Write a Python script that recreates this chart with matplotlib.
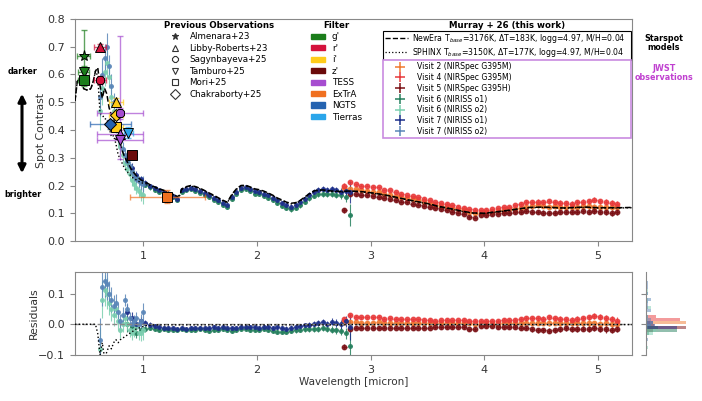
import numpy as np
import matplotlib
matplotlib.use('Agg')
import matplotlib.pyplot as plt
from matplotlib.lines import Line2D
from matplotlib.patches import Patch, FancyArrowPatch

# ---------------- data ----------------
# starspot models (NewEra dashed, SPHINX dotted)
model_wl = [0.40, 0.42, 0.44, 0.46, 0.48, 0.50, 0.52, 0.54, 0.56, 0.58, 0.60, 0.62, 0.64, 0.66,
            0.68, 0.70, 0.72, 0.74, 0.76, 0.78, 0.80, 0.82, 0.84, 0.86, 0.90, 0.94, 0.98, 1.02,
            1.06, 1.10, 1.14, 1.18, 1.22, 1.26, 1.30, 1.32, 1.34, 1.38, 1.42, 1.46, 1.50, 1.54,
            1.58, 1.62, 1.66, 1.70, 1.74, 1.78, 1.82, 1.86, 1.90, 1.94, 1.98, 2.02, 2.06, 2.10,
            2.14, 2.18, 2.22, 2.26, 2.30, 2.34, 2.38, 2.42, 2.46, 2.50, 2.54, 2.58, 2.62, 2.66,
            2.70, 2.74, 2.80, 2.90, 3.00, 3.10, 3.20, 3.30, 3.40, 3.50, 3.60, 3.70, 3.80, 3.90,
            4.00, 4.10, 4.20, 4.30, 4.40, 4.50, 4.60, 4.70, 4.80, 4.90, 5.00, 5.10, 5.20, 5.30]
newera = [0.505, 0.575, 0.585, 0.560, 0.548, 0.545, 0.543, 0.550, 0.575, 0.612, 0.625, 0.560, 0.515, 0.550,
          0.530, 0.480, 0.455, 0.440, 0.400, 0.370, 0.345, 0.320, 0.300, 0.285, 0.255, 0.235, 0.220, 0.212,
          0.203, 0.195, 0.188, 0.183, 0.176, 0.170, 0.160, 0.165, 0.188, 0.196, 0.200, 0.196, 0.190, 0.182,
          0.173, 0.165, 0.156, 0.147, 0.140, 0.168, 0.188, 0.200, 0.201, 0.195, 0.188, 0.185, 0.180, 0.173,
          0.165, 0.155, 0.148, 0.140, 0.136, 0.138, 0.146, 0.158, 0.170, 0.180, 0.184, 0.184, 0.182, 0.180,
          0.180, 0.178, 0.180, 0.179, 0.174, 0.168, 0.160, 0.151, 0.143, 0.135, 0.125, 0.117, 0.108, 0.101,
          0.100, 0.105, 0.110, 0.116, 0.121, 0.122, 0.121, 0.119, 0.121, 0.122, 0.120, 0.120, 0.120, 0.121]
sphinx = [0.505, 0.575, 0.585, 0.560, 0.548, 0.545, 0.543, 0.550, 0.575, 0.612, 0.595, 0.460, 0.455, 0.440,
          0.440, 0.410, 0.375, 0.380, 0.350, 0.310, 0.295, 0.275, 0.260, 0.250, 0.230, 0.220, 0.210, 0.207,
          0.200, 0.193, 0.186, 0.181, 0.174, 0.168, 0.158, 0.163, 0.186, 0.194, 0.198, 0.194, 0.188, 0.180,
          0.171, 0.163, 0.154, 0.145, 0.138, 0.166, 0.186, 0.198, 0.199, 0.193, 0.186, 0.183, 0.178, 0.171,
          0.163, 0.153, 0.146, 0.138, 0.134, 0.136, 0.144, 0.156, 0.168, 0.178, 0.182, 0.182, 0.180, 0.178,
          0.178, 0.176, 0.179, 0.178, 0.173, 0.167, 0.159, 0.150, 0.142, 0.134, 0.124, 0.116, 0.107, 0.100,
          0.099, 0.104, 0.109, 0.115, 0.120, 0.121, 0.120, 0.118, 0.120, 0.121, 0.119, 0.119, 0.119, 0.120]

# NIRISS order 2
o2_wl = [0.62, 0.64, 0.66, 0.68, 0.70, 0.72, 0.74, 0.76, 0.78, 0.80,
         0.82, 0.84, 0.86, 0.88, 0.90, 0.92, 0.94, 0.96, 0.98, 1.00]
v7o2 = [0.52, 0.60, 0.66, 0.70, 0.63, 0.56, 0.50, 0.45, 0.40, 0.36,
        0.33, 0.31, 0.29, 0.27, 0.25, 0.235, 0.225, 0.215, 0.21, 0.205]
v6o2 = [0.47, 0.55, 0.61, 0.64, 0.59, 0.52, 0.47, 0.42, 0.37, 0.34,
        0.31, 0.28, 0.26, 0.24, 0.22, 0.205, 0.19, 0.18, 0.17, 0.165]
e_o2 = [0.07, 0.06, 0.05, 0.05, 0.04, 0.04, 0.035, 0.03, 0.03, 0.025,
        0.025, 0.02, 0.02, 0.02, 0.02, 0.02, 0.02, 0.02, 0.025, 0.03]
r7o2 = [-0.05, 0.12, 0.14, 0.13, 0.10, 0.08, 0.06, 0.07, 0.04, 0.01,
        0.03, 0.08, 0.05, 0.02, 0.00, 0.01, 0.02, 0.00, 0.01, 0.04]
r6o2 = [-0.08, 0.08, 0.11, 0.10, 0.07, 0.05, 0.03, 0.05, 0.01, -0.02,
        0.00, 0.02, 0.00, -0.02, -0.03, -0.02, -0.01, -0.03, -0.03, -0.02]

# NIRISS order 1
o1_wl = [0.86, 0.90, 0.94, 0.98, 1.02, 1.06, 1.10, 1.14, 1.18, 1.22, 1.26, 1.30, 1.34,
         1.38, 1.42, 1.46, 1.50, 1.54, 1.58, 1.62, 1.66, 1.70, 1.74, 1.78, 1.82, 1.86,
         1.90, 1.94, 1.98, 2.02, 2.06, 2.10, 2.14, 2.18, 2.22, 2.26, 2.30, 2.34, 2.38,
         2.42, 2.46, 2.50, 2.54, 2.58, 2.62, 2.66, 2.70, 2.74, 2.78, 2.82]
v7o1 = [0.300, 0.262, 0.238, 0.222, 0.210, 0.199, 0.190, 0.182, 0.176, 0.170, 0.163, 0.151, 0.182,
        0.188, 0.192, 0.187, 0.181, 0.173, 0.164, 0.156, 0.146, 0.138, 0.131, 0.158, 0.178, 0.192,
        0.193, 0.186, 0.179, 0.176, 0.171, 0.164, 0.155, 0.146, 0.137, 0.129, 0.124, 0.128, 0.139,
        0.153, 0.167, 0.178, 0.185, 0.188, 0.184, 0.186, 0.182, 0.178, 0.180, 0.176]
v6o1 = [0.285, 0.250, 0.228, 0.214, 0.203, 0.193, 0.184, 0.176, 0.170, 0.164, 0.157, 0.146, 0.176,
        0.182, 0.186, 0.180, 0.174, 0.166, 0.157, 0.149, 0.139, 0.130, 0.122, 0.150, 0.170, 0.184,
        0.186, 0.179, 0.171, 0.168, 0.162, 0.155, 0.146, 0.136, 0.127, 0.119, 0.114, 0.118, 0.128,
        0.141, 0.154, 0.163, 0.168, 0.170, 0.168, 0.170, 0.167, 0.165, 0.160, 0.095]
e_o1 = [0.025, 0.020, 0.015, 0.012, 0.010, 0.008, 0.007, 0.007, 0.006, 0.006, 0.006, 0.006, 0.006,
        0.006, 0.006, 0.006, 0.006, 0.006, 0.006, 0.006, 0.006, 0.006, 0.006, 0.006, 0.006, 0.006,
        0.006, 0.006, 0.006, 0.006, 0.006, 0.007, 0.007, 0.007, 0.007, 0.007, 0.008, 0.008, 0.008,
        0.008, 0.009, 0.009, 0.009, 0.010, 0.010, 0.011, 0.012, 0.014, 0.018, 0.040]
r7o1 = [0.040, 0.020, 0.002, 0.010, 0.004, -0.002, -0.006, -0.010, -0.012, -0.013, -0.012, -0.014, -0.012,
        -0.014, -0.012, -0.013, -0.011, -0.012, -0.013, -0.010, -0.012, -0.009, -0.011, -0.013, -0.012, -0.010,
        -0.008, -0.010, -0.009, -0.011, -0.008, -0.010, -0.012, -0.009, -0.013, -0.014, -0.012, -0.008, -0.006,
        -0.004, -0.002, 0.000, 0.004, 0.006, 0.002, 0.008, 0.004, 0.000, 0.010, -0.010]
r6o1 = [0.000, -0.010, -0.030, -0.020, -0.015, -0.012, -0.014, -0.018, -0.016, -0.020, -0.018, -0.019, -0.017,
        -0.020, -0.018, -0.020, -0.017, -0.019, -0.021, -0.018, -0.020, -0.016, -0.019, -0.021, -0.018, -0.017,
        -0.015, -0.019, -0.020, -0.018, -0.016, -0.019, -0.022, -0.024, -0.026, -0.025, -0.022, -0.020, -0.018,
        -0.016, -0.015, -0.017, -0.016, -0.012, -0.014, -0.018, -0.020, -0.022, -0.030, -0.070]

# NIRSpec G395M / G395H
ns_wl = [2.77, 2.82, 2.87, 2.92, 2.97, 3.02, 3.07, 3.12, 3.17, 3.22, 3.27, 3.32, 3.37,
         3.42, 3.47, 3.52, 3.57, 3.62, 3.67, 3.72, 3.77, 3.82, 3.87, 3.92, 3.97, 4.02,
         4.07, 4.12, 4.17, 4.22, 4.27, 4.32, 4.37, 4.42, 4.47, 4.52, 4.57, 4.62, 4.67,
         4.72, 4.77, 4.82, 4.87, 4.92, 4.97, 5.02, 5.07, 5.12, 5.17]
v4 = [0.200, 0.212, 0.204, 0.200, 0.199, 0.196, 0.194, 0.184, 0.182, 0.176, 0.170, 0.166, 0.162,
      0.158, 0.152, 0.148, 0.140, 0.137, 0.134, 0.128, 0.124, 0.120, 0.114, 0.112, 0.110, 0.112,
      0.114, 0.118, 0.121, 0.124, 0.128, 0.133, 0.140, 0.141, 0.142, 0.140, 0.144, 0.140, 0.138,
      0.136, 0.135, 0.139, 0.141, 0.144, 0.148, 0.143, 0.140, 0.136, 0.132]
v2 = [0.190, 0.188, 0.186, 0.183, 0.181, 0.178, 0.176, 0.171, 0.167, 0.162, 0.158, 0.155, 0.150,
      0.146, 0.142, 0.137, 0.131, 0.127, 0.122, 0.118, 0.114, 0.110, 0.106, 0.102, 0.100, 0.103,
      0.106, 0.108, 0.111, 0.114, 0.117, 0.120, 0.124, 0.127, 0.128, 0.126, 0.124, 0.125, 0.123,
      0.122, 0.123, 0.124, 0.125, 0.126, 0.124, 0.122, 0.124, 0.121, 0.122]
v5 = [0.110, 0.168, 0.168, 0.166, 0.164, 0.162, 0.158, 0.155, 0.150, 0.147, 0.142, 0.139, 0.135,
      0.131, 0.127, 0.122, 0.118, 0.114, 0.110, 0.106, 0.102, 0.098, 0.086, 0.084, 0.092, 0.094,
      0.097, 0.098, 0.100, 0.102, 0.104, 0.106, 0.108, 0.106, 0.104, 0.102, 0.100, 0.102, 0.104,
      0.106, 0.104, 0.106, 0.108, 0.106, 0.108, 0.106, 0.104, 0.100, 0.106]
e_ns = [0.008, 0.006, 0.005, 0.005, 0.005, 0.005, 0.005, 0.005, 0.005, 0.005, 0.005, 0.005, 0.005,
        0.005, 0.005, 0.005, 0.005, 0.005, 0.005, 0.005, 0.005, 0.006, 0.006, 0.006, 0.006, 0.006,
        0.006, 0.006, 0.006, 0.006, 0.007, 0.007, 0.008, 0.008, 0.008, 0.008, 0.008, 0.008, 0.008,
        0.008, 0.008, 0.009, 0.009, 0.009, 0.009, 0.010, 0.010, 0.010, 0.011]
r4 = [0.017, 0.030, 0.024, 0.022, 0.023, 0.023, 0.024, 0.018, 0.020, 0.018, 0.016, 0.016, 0.016,
      0.016, 0.014, 0.015, 0.012, 0.013, 0.015, 0.013, 0.013, 0.013, 0.011, 0.012, 0.011, 0.011,
      0.010, 0.012, 0.013, 0.013, 0.014, 0.016, 0.020, 0.019, 0.019, 0.018, 0.023, 0.019, 0.018,
      0.017, 0.015, 0.018, 0.019, 0.022, 0.027, 0.023, 0.019, 0.016, 0.012]
r2 = [0.007, 0.006, 0.006, 0.005, 0.005, 0.005, 0.006, 0.005, 0.005, 0.004, 0.004, 0.005, 0.004,
      0.004, 0.004, 0.004, 0.003, 0.003, 0.003, 0.003, 0.003, 0.003, 0.003, 0.002, 0.001, 0.002,
      0.002, 0.002, 0.003, 0.003, 0.003, 0.003, 0.004, 0.005, 0.005, 0.004, 0.003, 0.004, 0.003,
      0.003, 0.003, 0.003, 0.003, 0.004, 0.003, 0.002, 0.003, 0.001, 0.002]
r5 = [-0.073, -0.014, -0.012, -0.012, -0.012, -0.011, -0.012, -0.011, -0.012, -0.011, -0.012, -0.011, -0.011,
      -0.011, -0.011, -0.011, -0.010, -0.010, -0.009, -0.009, -0.009, -0.009, -0.017, -0.016, -0.007, -0.007,
      -0.007, -0.008, -0.008, -0.009, -0.010, -0.011, -0.012, -0.016, -0.019, -0.020, -0.021, -0.019, -0.016,
      -0.013, -0.016, -0.015, -0.014, -0.016, -0.013, -0.014, -0.017, -0.020, -0.014]

# previous photometric observations
prev_wl = [0.475, 0.475, 0.475, 0.62, 0.62, 0.76, 0.76, 0.76, 0.795, 0.795, 0.795, 0.71, 0.87, 0.90, 1.21]
prev_val = [0.665, 0.61, 0.58, 0.70, 0.58, 0.50, 0.455, 0.41, 0.46, 0.385, 0.365, 0.42, 0.39, 0.31, 0.16]
prev_xerr = [0.055, 0.05, 0.05, 0.05, 0.05, 0.06, 0.06, 0.06, 0.2, 0.2, 0.2, 0.18, 0.04, 0.04, 0.33]
prev_ylo = [0.10, 0.02, 0.02, 0.01, 0.015, 0.015, 0.015, 0.015, 0.02, 0.015, 0.07, 0.015, 0.02, 0.01, 0.022]
prev_yhi = [0.095, 0.02, 0.02, 0.01, 0.015, 0.015, 0.015, 0.015, 0.02, 0.015, 0.375, 0.015, 0.02, 0.01, 0.022]
prev_filter = ["g'", "g'", "g'", "r'", "r'", "i'", "i'", "i'", 'TESS', 'TESS', 'TESS',
               'NGTS', 'Tierras', "z'", 'ExTrA']
prev_ref = ['Almenara+23', 'Tamburo+25', 'Mori+25', 'Libby-Roberts+23', 'Sagynbayeva+25',
            'Libby-Roberts+23', 'Chakraborty+25', 'Mori+25', 'Sagynbayeva+25', 'Libby-Roberts+23',
            'Tamburo+25', 'Chakraborty+25', 'Tamburo+25', 'Mori+25', 'Mori+25']

ref_names = ['Almenara+23', 'Libby-Roberts+23', 'Sagynbayeva+25', 'Tamburo+25', 'Mori+25', 'Chakraborty+25']
ref_markers = ['*', '^', '8', 'v', 's', 'D']
filter_names = ["g'", "r'", "i'", "z'", 'TESS', 'ExTrA', 'NGTS', 'Tierras']
filter_colors = ['#1b7d1b', '#d4123c', '#ffcc1a', '#6b0a0a', '#a64dd0', '#f07020', '#2563b0', '#2aa5ea']

# ---------------- figure ----------------
W, H = 702, 401
fig = plt.figure(figsize=(W / 100, H / 100), dpi=100)


def fx(px):
    return px / W


def fy(py):
    return 1 - py / H


ax = fig.add_axes([fx(75), fy(241), fx(632) - fx(75), fy(19) - fy(241)])
axr = fig.add_axes([fx(75), fy(355), fx(632) - fx(75), fy(272) - fy(355)])
axh = fig.add_axes([fx(646), fy(355), fx(700) - fx(646), fy(272) - fy(355)])

visits = [
    ('Visit 2 (NIRSpec G395M)', ns_wl, v2, e_ns, r2, '#f07a30', 3.2, 0.02),
    ('Visit 4 (NIRSpec G395M)', ns_wl, v4, e_ns, r4, '#e8393a', 3.2, 0.02),
    ('Visit 5 (NIRSpec G395H)', ns_wl, v5, e_ns, r5, '#7a0f14', 3.2, 0.02),
    ('Visit 6 (NIRISS o1)', o1_wl, v6o1, e_o1, r6o1, '#26805e', 2.6, 0.015),
    ('Visit 6 (NIRISS o2)', o2_wl, v6o2, e_o2, r6o2, '#7ccfb0', 2.6, 0.01),
    ('Visit 7 (NIRISS o1)', o1_wl, v7o1, e_o1, r7o1, '#1c2f8a', 2.6, 0.015),
    ('Visit 7 (NIRISS o2)', o2_wl, v7o2, e_o2, r7o2, '#5a86b8', 2.6, 0.01),
]

for label, wl, val, err, res, c, ms, xe in visits:
    ax.errorbar(wl, val, yerr=err, xerr=xe, fmt='o', color=c, ms=ms, elinewidth=0.8,
                capsize=0, alpha=0.85, zorder=2)
    axr.errorbar(wl, res, yerr=err, xerr=xe, fmt='o', color=c, ms=ms, elinewidth=0.8,
                 capsize=0, alpha=0.85, zorder=2)

ax.plot(model_wl, newera, '--', color='black', lw=1.1, zorder=4)
ax.plot(model_wl, sphinx, ':', color='black', lw=1.0, zorder=4)
axr.axhline(0, color='#888888', ls='--', lw=1.0, zorder=3)
axr.plot(model_wl, np.array(sphinx) - np.array(newera), ':', color='black', lw=1.0, zorder=4)

for wl, v, xe, ylo, yhi, flt, ref in zip(prev_wl, prev_val, prev_xerr, prev_ylo, prev_yhi,
                                         prev_filter, prev_ref):
    c = filter_colors[filter_names.index(flt)]
    m = ref_markers[ref_names.index(ref)]
    ax.errorbar([wl], [v], xerr=xe, yerr=[[ylo], [yhi]], fmt='none', ecolor=c, elinewidth=1.0,
                capsize=2, alpha=0.7, zorder=5)
    ax.plot([wl], [v], marker=m, color=c, mec='black', mew=0.7,
            ms=8 if m == '*' else 6.5, zorder=6)

# residual distributions per visit
bins = np.linspace(-0.1, 0.17, 30)
peak = 0
for label, wl, val, err, res, c, ms, xe in visits:
    n, _, _ = axh.hist(res, bins=bins, orientation='horizontal', histtype='stepfilled',
                       density=True, color=c, alpha=0.5)
    peak = max(peak, n.max())
axh.set_xlim(0, peak * 1.35)

# axes styling
for a in (ax, axr):
    a.set_xlim(0.4, 5.3)
    a.set_xticks([1, 2, 3, 4, 5])
    for s in a.spines.values():
        s.set_color('#888888')
    a.tick_params(colors='#888888', labelcolor='#333333', labelsize=8, length=3.5)
ax.set_ylim(0, 0.8)
ax.set_yticks(np.arange(0, 0.81, 0.1))
ax.set_ylabel('Spot Contrast', fontsize=7.8, color='#333333')
ax.yaxis.set_label_coords(-0.052, 0.5)
axr.set_ylim(-0.1, 0.17)
axr.set_yticks([-0.1, 0.0, 0.1])
axr.set_ylabel('Residuals', fontsize=7.8, color='#333333')
axr.yaxis.set_label_coords(-0.065, 0.5)
axr.set_xlabel('Wavelength [micron]', fontsize=7.5, color='#333333')
axr.xaxis.set_label_coords(0.5, -0.27)

axh.set_ylim(-0.1, 0.17)
axh.set_yticks([-0.1, 0.0, 0.1])
axh.set_yticklabels([])
axh.set_xticks([])
for k in ('top', 'right', 'bottom'):
    axh.spines[k].set_visible(False)
axh.spines['left'].set_color('#888888')
axh.tick_params(colors='#888888', length=3.5)

# legends
prev_handles = [Line2D([], [], ls='none', marker=m, mfc='#333333' if m == '*' else 'white',
                       mec='#333333', mew=0.8, ms=5) for m in ref_markers]
leg1 = fig.legend(prev_handles, ref_names, loc='upper left', bbox_to_anchor=(fx(157), fy(14)),
                  frameon=False, fontsize=6.3, title='Previous Observations',
                  title_fontproperties={'weight': 'bold', 'size': 6.2}, labelspacing=0.28,
                  handlelength=1.2, handletextpad=1.0, borderpad=0.3)
filt_handles = [Patch(color=c) for c in filter_colors]
leg2 = fig.legend(filt_handles, filter_names, loc='upper left', bbox_to_anchor=(fx(304), fy(14)),
                  frameon=False, fontsize=6.3, title='Filter',
                  title_fontproperties={'weight': 'bold', 'size': 6.2}, labelspacing=0.28,
                  handlelength=1.6, handleheight=0.55, handletextpad=0.8, borderpad=0.3)

fig.text(fx(507), fy(25), 'Murray + 26 (this work)', ha='center', va='center',
         fontsize=6.2, fontweight='bold')
model_handles = [Line2D([], [], ls='--', color='black', lw=1.0),
                 Line2D([], [], ls=':', color='black', lw=0.9)]
model_labels = ['NewEra T$_{base}$=3176K, ΔT=183K, logg=4.97, M/H=0.04',
                'SPHINX T$_{base}$=3150K, ΔT=177K, logg=4.97, M/H=0.04']
leg3 = fig.legend(model_handles, model_labels, loc='upper left',
                  bbox_to_anchor=(fx(383), fy(31), fx(631) - fx(383), 0.001), mode='expand',
                  fontsize=5.6, fancybox=False, edgecolor='black', framealpha=1,
                  labelspacing=0.05, handlelength=3.0, borderpad=0.2, handletextpad=0.5,
                  borderaxespad=0)
leg3.get_frame().set_linewidth(0.8)

# stack the visit legend directly under the model legend
fig.canvas.draw()
bb3 = leg3.get_window_extent().transformed(fig.transFigure.inverted())
visit_handles = [Line2D([], [], ls='none', marker='+', color=v[5], ms=7, mew=1.1) for v in visits]
leg4 = fig.legend(visit_handles, [v[0] for v in visits], loc='upper left',
                  bbox_to_anchor=(fx(383), bb3.y0, fx(631) - fx(383), 0.001), mode='expand',
                  fontsize=5.6, fancybox=False, edgecolor='#c98be0', framealpha=1,
                  labelspacing=0.22, handlelength=3.6, borderpad=0.35, handletextpad=0.4,
                  borderaxespad=0)
leg4.get_frame().set_linewidth(1.2)

# side annotations
fig.text(fx(23), fy(71), 'darker', ha='center', va='center', fontsize=5.8, fontweight='bold')
fig.text(fx(23), fy(194), 'brighter', ha='center', va='center', fontsize=5.8, fontweight='bold')
fig.patches.append(FancyArrowPatch((fx(22), fy(91)), (fx(22), fy(176)), transform=fig.transFigure,
                                   arrowstyle='<|-|>', mutation_scale=11, lw=2.2, color='black'))
fig.text(fx(664), fy(43), 'Starspot\nmodels', ha='center', va='center', fontsize=5.8,
         fontweight='bold', linespacing=0.95)
fig.text(fx(664), fy(73), 'JWST\nobservations', ha='center', va='center', fontsize=5.8,
         fontweight='bold', color='#c040d0', linespacing=0.95)

fig.savefig('out.png', dpi=100)
